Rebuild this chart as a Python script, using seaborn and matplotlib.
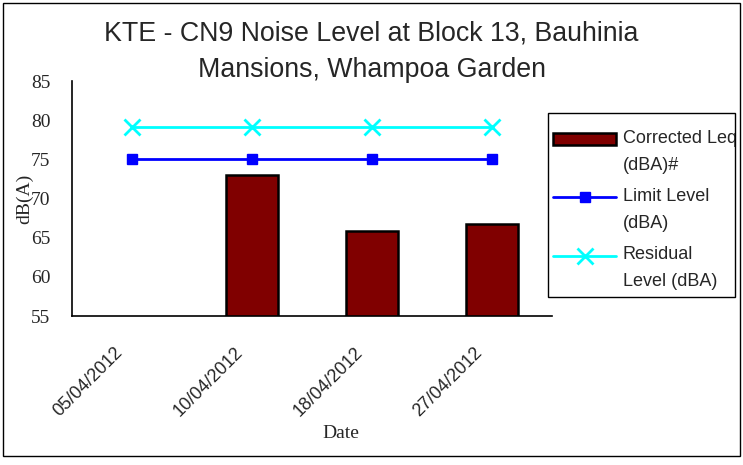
import numpy as np
import pandas as pd
import seaborn as sns
import matplotlib.pyplot as plt
from matplotlib.patches import Rectangle
from matplotlib.lines import Line2D
from matplotlib.legend_handler import HandlerLine2D, HandlerPatch
from matplotlib.transforms import Affine2D, ScaledTranslation, Bbox

# data
dates = ["05/04/2012", "10/04/2012", "18/04/2012", "27/04/2012"]
leq = [np.nan, 73.0, 65.8, 66.7]
limit = [75, 75, 75, 75]
residual = [79.1, 79.1, 79.1, 79.1]

sns.set_style("white")
plt.rcParams['font.family'] = ['Liberation Sans', 'DejaVu Sans']

df = pd.DataFrame({'Date': dates, 'Leq': leq})

fig = plt.figure(figsize=(7.43, 4.65), dpi=100)
ax = fig.add_axes([0.0969, 0.3204, 0.646, 0.5054])

sns.barplot(data=df, x='Date', y='Leq', order=dates, color='#800000', saturation=1,
            edgecolor='black', linewidth=1.8, width=0.43, errorbar=None, ax=ax)
xs = np.arange(len(dates))
ax.plot(xs, limit, color='#0000ff', lw=2, marker='s', ms=7)
ax.plot(xs, residual, color='#00ffff', lw=2, marker='x', ms=12, mew=2)

ax.set_xlim(-0.5, len(dates) - 0.5)
ax.set_ylim(55, 85)
ax.set_yticks(range(55, 86, 5))
ax.set_xticks(xs)
ax.set_xticks(xs[:-1] + 0.5, minor=True)
ax.tick_params(axis='x', which='major', length=0, pad=8)
ax.tick_params(axis='x', which='minor', direction='in', length=5, width=1, color='black')
ax.tick_params(axis='y', direction='in', length=5, width=1, color='black', pad=15.5)
ax.set_xticklabels(dates, rotation=45, ha='right', rotation_mode='anchor', fontsize=13)
shift = ScaledTranslation(-13 / 72, -12 / 72, fig.dpi_scale_trans)
for t in ax.get_xticklabels():
    t.set_transform(t.get_transform() + shift)
for t in ax.get_yticklabels():
    t.set_fontfamily('Liberation Serif')
    t.set_fontsize(14)

for s in ['top', 'right']:
    ax.spines[s].set_visible(False)
for s in ['left', 'bottom']:
    ax.spines[s].set_color('black')
    ax.spines[s].set_linewidth(1.2)

ax.set_ylabel('dB(A)', fontfamily='Liberation Serif', fontsize=14)
ax.yaxis.set_label_coords(-0.08, 0.5)
ax.set_xlabel('Date', fontfamily='Liberation Serif', fontsize=14, va='top')
ax.xaxis.set_label_coords(0.56, -0.465)

fig.text(0.5, 1 - 52 / 465, 'KTE - CN9 Noise Level at Block 13, Bauhinia\nMansions, Whampoa Garden',
         ha='center', va='center', fontsize=19.3, linespacing=1.52)


class UpLine(HandlerLine2D):
    def create_artists(self, legend, orig_handle, xdescent, ydescent, width, height, fontsize, trans):
        return super().create_artists(legend, orig_handle, xdescent, ydescent, width, height,
                                      fontsize, Affine2D().translate(0, 9.5) + trans)


class UpPatch(HandlerPatch):
    def create_artists(self, legend, orig_handle, xdescent, ydescent, width, height, fontsize, trans):
        return super().create_artists(legend, orig_handle, xdescent, ydescent, width, height,
                                      fontsize, Affine2D().translate(0, 9.5) + trans)


bar_handle = Rectangle((0, 0), 1, 1, facecolor='#800000', edgecolor='black', linewidth=1.8)
handles = [bar_handle] + list(ax.get_lines()[-2:])
labels = ['Corrected Leq\n(dBA)#', 'Limit Level\n(dBA)', 'Residual\nLevel (dBA)']
leg = fig.legend(handles, labels, loc='upper left', bbox_to_anchor=(553 / 743, 1 - 130 / 465),
                 fontsize=13, frameon=False,
                 handlelength=3.5, handleheight=0.6, handletextpad=0.35, borderpad=0,
                 labelspacing=0.8, borderaxespad=0,
                 handler_map={Line2D: UpLine(), Rectangle: UpPatch()})
clip = Bbox([[548, 465 - 297], [735, 465 - 113]])
for t in leg.get_texts():
    t.set_linespacing(1.75)
    t.set_clip_box(clip)
    t.set_clip_on(True)

fig.patches.append(Rectangle((548 / 743, 1 - 297 / 465), 187 / 743, 184 / 465,
                             transform=fig.transFigure, fill=False, edgecolor='black', lw=1))
fig.patches.append(Rectangle((3 / 743, 1 - 456 / 465), 737 / 743, 453 / 465,
                             transform=fig.transFigure, fill=False, edgecolor='black', lw=1))

fig.savefig('out.png', dpi=100)
